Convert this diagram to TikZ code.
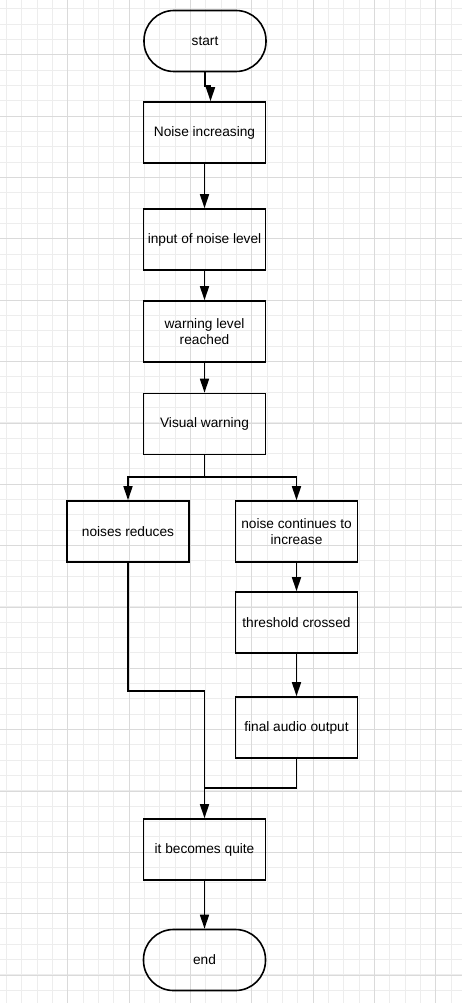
\documentclass[tikz,border=0pt]{standalone}
\usepackage{fontspec}
\setmainfont{Liberation Sans}
\usetikzlibrary{arrows.meta}

\begin{document}
\begin{tikzpicture}[x=1pt,y=-1pt
	,->,>={Triangle[length=14pt,width=9pt]}
	,line width=1.6pt
	,font=\fontsize{13.7}{16}\selectfont]
  \tikzstyle{every node}=[align=center]
  \tikzstyle{process}=[draw,rectangle,minimum width=122pt,minimum height=61pt,inner sep=2pt]
  \tikzstyle{terminal}=[process,rounded corners=30pt]
  \tikzstyle{minorline}=[-,line width=1pt,draw={rgb,255:red,237;green,237;blue,237}]
  \tikzstyle{majorline}=[-,line width=1pt,draw={rgb,255:red,218;green,218;blue,218}]

  \useasboundingbox (0,0) rectangle (462,1003);
  % grid paper
  \begin{scope}
    \clip (0,0) rectangle (462,1003);
    \fill[white] (0,0) rectangle (462,1003);
    \foreach \i in {0,...,29}
      \draw[minorline] (6.4+15.333*\i,0) -- (6.4+15.333*\i,1003);
    \foreach \j in {0,...,65}
      \draw[minorline] (0,9+15.333*\j) -- (462,9+15.333*\j);
    \foreach \i in {1,...,7}
      \draw[majorline] (6.4+61.333*\i,0) -- (6.4+61.333*\i,1003);
    \foreach \j in {0,...,15}
      \draw[majorline] (0,55+61.333*\j) -- (462,55+61.333*\j);
  \end{scope}

  % main column
  \node[terminal] (start) at (205,41) {start};
  \node[process] (noise) at (204.5,132.5) {Noise increasing};
  \node[process] (input) at (204.5,239.5) {input of noise level};
  \node[process] (warn) at (204.5,331.5) {warning level\\reached};
  \node[process] (visual) at (204.5,424) {Visual warning};
  % two branches
  \node[process] (reduce) at (128,531.5) {noises reduces};
  \node[process] (cont) at (296.5,531.5) {noise continues to\\increase};
  \node[process] (thresh) at (296.5,622.5) {threshold crossed};
  \node[process] (audio) at (296.5,727.5) {final audio output};
  % bottom
  \node[process] (quite) at (204.5,849.5) {it becomes quite};
  \node[terminal] (end) at (204.5,960) {end};

  \coordinate (split) at (204.5,477);
  \coordinate (mergeL) at (204.5,691);
  \coordinate (mergeR) at (204.5,788);

  \draw (start.south) -- ++(0,14) -| ([xshift=6pt]noise.north);
  \draw (noise) -- (input);
  \draw (input) -- (warn);
  \draw (warn) -- (visual);
  \draw[-] (visual.south) -- (split);
  \draw (split) -| (reduce.north);
  \draw (split) -| (cont.north);
  \draw (cont) -- (thresh);
  \draw (thresh) -- (audio);
  \draw (reduce.south) |- (mergeL) -- (quite.north);
  \draw[-] (audio.south) |- (mergeR);
  \draw (quite) -- (end);

\end{tikzpicture}
\end{document}
